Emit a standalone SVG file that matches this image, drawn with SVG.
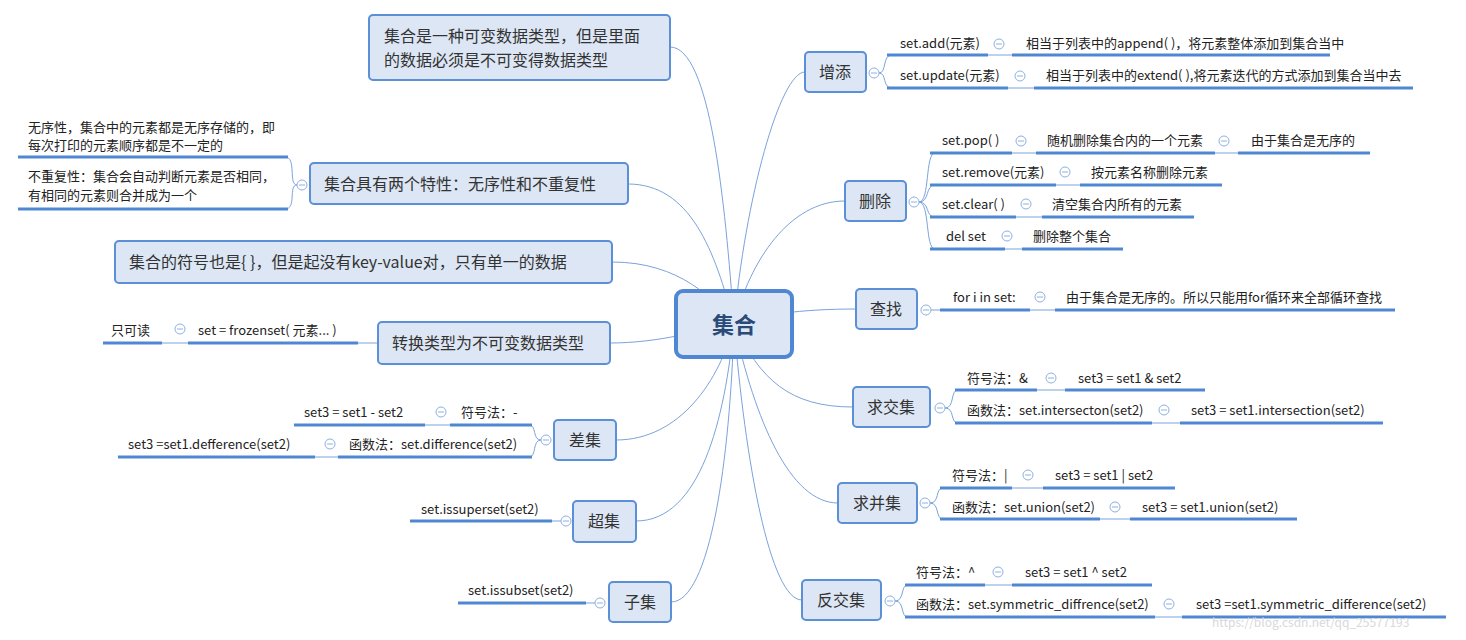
<svg xmlns="http://www.w3.org/2000/svg" width="1466" height="640" viewBox="0 0 1466 640">
<defs>
<style>
text{font-family:"Noto Sans CJK SC","Microsoft YaHei",sans-serif;fill:#222}
.lf{font-size:13px}
.nd{font-size:16px;fill:#333}
.bx{fill:#dce6f4;stroke:#5b8fd6;stroke-width:2}
.ul{stroke:#4f87d2;stroke-width:3;fill:none}
.cn{stroke:#7aa3dc;stroke-width:1;fill:none}
.cc{fill:#fff;stroke:#8eb0e0;stroke-width:1}
.cm{stroke:#8eb0e0;stroke-width:1}
</style>
<g id="col"><circle class="cc" r="5"/><line class="cm" x1="-3" y1="0" x2="3" y2="0"/></g>
</defs>
<rect width="1466" height="640" fill="#fff"/>
<g id="connectors">
<path class="cn" d="M734 324 C745 200 780 72 805 72"/>
<path class="cn" d="M734 324 C750 260 790 201 845 201"/>
<path class="cn" d="M734 324 C760 315 800 309 856 309"/>
<path class="cn" d="M734 324 C760 380 790 407 853 407"/>
<path class="cn" d="M734 324 C755 420 790 503 838 503"/>
<path class="cn" d="M734 324 C745 460 770 600 802 600"/>
<path class="cn" d="M734 324 C725 200 710 47 670 47"/>
<path class="cn" d="M734 324 C715 250 690 184 628 184"/>
<path class="cn" d="M734 324 C715 300 680 262 612 262"/>
<path class="cn" d="M734 324 C700 330 660 343 610 343"/>
<path class="cn" d="M734 324 C720 380 680 440 616 440"/>
<path class="cn" d="M734 324 C725 420 700 521 636 521"/>
<path class="cn" d="M734 324 C730 460 710 602 671 602"/>
<!-- 增添 -->
<path class="cn" d="M879 73 C887 73 882 55 892 55 M879 73 C887 73 882 88 892 88"/>
<path class="cn" d="M988 55 H1012 M1008 88 H1034"/>
<!-- 删除 -->
<path class="cn" d="M919 202 C930 202 925 153 935 153 M919 202 C930 202 925 185 935 185 M919 202 C930 202 925 217 935 217 M919 202 C930 202 925 249 935 249"/>
<path class="cn" d="M1012 153 H1036 M1215 153 H1238 M1056 185 H1080 M1016 217 H1042 M1005 249 H1022"/>
<!-- 查找 -->
<path class="cn" d="M931 310 H940 M1030 310 H1055"/>
<!-- 交集 -->
<path class="cn" d="M945 408 C955 408 950 390 958 390 M945 408 C955 408 950 423 958 423 M1037 390 H1065 M1152 423 H1180"/>
<!-- 并集 -->
<path class="cn" d="M930 503 C940 503 935 488 943 488 M930 503 C940 503 935 519 943 519 M1012 488 H1043 M1100 519 H1130"/>
<!-- 反交集 -->
<path class="cn" d="M895 601 C905 601 900 585 908 585 M895 601 C905 601 900 617 908 617 M985 585 H1012 M1155 617 H1182"/>
<!-- 特性 -->
<path class="cn" d="M297 185 C288 185 297 157 285 157 M297 185 C288 185 297 209 285 209"/>
<!-- 转换 -->
<path class="cn" d="M378 343 H358 M188 343 H162"/>
<!-- 差集 -->
<path class="cn" d="M541 440 C532 440 537 425 529 425 M541 440 C532 440 537 457 529 457 M450 425 H425 M338 457 H315"/>
<path class="cn" d="M561 521 H552 M595 603 H586"/>
</g>
<g id="center"><rect x="676" y="291" width="116" height="66" rx="7" fill="#dce6f4" stroke="#4f87d2" stroke-width="4"/><text x="734" y="333" text-anchor="middle" style="font-size:22px;font-weight:bold;fill:#2a4a78">集合</text></g>

<g id="n-add"><rect class="bx" x="805" y="52" width="61" height="40" rx="4"/><text class="nd" x="835" y="78" text-anchor="middle">增添</text><use href="#col" x="874" y="73"/>
<text class="lf" x="900" y="48">set.add(元素)</text><line class="ul" x1="887" y1="55" x2="988" y2="55"/><use href="#col" x="999" y="44"/>
<text class="lf" x="1026" y="48">相当于列表中的append( )，将元素整体添加到集合当中</text><line class="ul" x1="1012" y1="55" x2="1330" y2="55"/>
<text class="lf" x="900" y="80">set.update(元素)</text><line class="ul" x1="887" y1="88" x2="1008" y2="88"/><use href="#col" x="1020" y="76"/>
<text class="lf" x="1046" y="80">相当于列表中的extend( ),将元素迭代的方式添加到集合当中去</text><line class="ul" x1="1034" y1="88" x2="1413" y2="88"/></g>

<g id="n-del"><rect class="bx" x="845" y="181" width="61" height="40" rx="4"/><text class="nd" x="875" y="207" text-anchor="middle">删除</text><use href="#col" x="914" y="202"/>
<text class="lf" x="942" y="145">set.pop( )</text><line class="ul" x1="930" y1="153" x2="1012" y2="153"/><use href="#col" x="1021" y="141"/>
<text class="lf" x="1047" y="145">随机删除集合内的一个元素</text><line class="ul" x1="1036" y1="153" x2="1215" y2="153"/><use href="#col" x="1224" y="141"/>
<text class="lf" x="1251" y="145">由于集合是无序的</text><line class="ul" x1="1238" y1="153" x2="1370" y2="153"/>
<text class="lf" x="942" y="177">set.remove(元素)</text><line class="ul" x1="930" y1="185" x2="1056" y2="185"/><use href="#col" x="1065" y="172"/>
<text class="lf" x="1091" y="177">按元素名称删除元素</text><line class="ul" x1="1080" y1="185" x2="1222" y2="185"/>
<text class="lf" x="942" y="209">set.clear( )</text><line class="ul" x1="930" y1="217" x2="1016" y2="217"/><use href="#col" x="1026" y="204"/>
<text class="lf" x="1052" y="209">清空集合内所有的元素</text><line class="ul" x1="1042" y1="217" x2="1194" y2="217"/>
<text class="lf" x="946" y="241">del set</text><line class="ul" x1="930" y1="249" x2="1005" y2="249"/><use href="#col" x="1007" y="236"/>
<text class="lf" x="1033" y="241">删除整个集合</text><line class="ul" x1="1022" y1="249" x2="1123" y2="249"/></g>

<g id="n-find"><rect class="bx" x="856" y="289" width="61" height="40" rx="4"/><text class="nd" x="886" y="315" text-anchor="middle">查找</text><use href="#col" x="926" y="310"/>
<text class="lf" x="953" y="302">for i in set:</text><line class="ul" x1="940" y1="310" x2="1030" y2="310"/><use href="#col" x="1040" y="297"/>
<text class="lf" x="1066" y="302">由于集合是无序的。所以只能用for循环来全部循环查找</text><line class="ul" x1="1055" y1="310" x2="1395" y2="310"/></g>

<g id="n-inter"><rect class="bx" x="853" y="387" width="77" height="40" rx="4"/><text class="nd" x="891" y="413" text-anchor="middle">求交集</text><use href="#col" x="940" y="408"/>
<text class="lf" x="967" y="383">符号法：&amp;</text><line class="ul" x1="955" y1="390" x2="1037" y2="390"/><use href="#col" x="1051" y="378"/>
<text class="lf" x="1078" y="383">set3 = set1 &amp; set2</text><line class="ul" x1="1065" y1="390" x2="1205" y2="390"/>
<text class="lf" x="967" y="415">函数法：set.intersecton(set2)</text><line class="ul" x1="955" y1="423" x2="1152" y2="423"/><use href="#col" x="1164" y="410"/>
<text class="lf" x="1191" y="415">set3 = set1.intersection(set2)</text><line class="ul" x1="1180" y1="423" x2="1383" y2="423"/></g>

<g id="n-union"><rect class="bx" x="838" y="483" width="79" height="40" rx="4"/><text class="nd" x="877" y="509" text-anchor="middle">求并集</text><use href="#col" x="925" y="503"/>
<text class="lf" x="952" y="480">符号法：|</text><line class="ul" x1="940" y1="488" x2="1012" y2="488"/><use href="#col" x="1028" y="475"/>
<text class="lf" x="1055" y="480">set3 = set1 | set2</text><line class="ul" x1="1043" y1="488" x2="1175" y2="488"/>
<text class="lf" x="952" y="512">函数法：set.union(set2)</text><line class="ul" x1="940" y1="519" x2="1100" y2="519"/><use href="#col" x="1115" y="507"/>
<text class="lf" x="1142" y="512">set3 = set1.union(set2)</text><line class="ul" x1="1130" y1="519" x2="1297" y2="519"/></g>

<g id="n-sym"><rect class="bx" x="802" y="580" width="79" height="40" rx="4"/><text class="nd" x="841" y="606" text-anchor="middle">反交集</text><use href="#col" x="890" y="601"/>
<text class="lf" x="916" y="577">符号法：^</text><line class="ul" x1="905" y1="585" x2="985" y2="585"/><use href="#col" x="998" y="572"/>
<text class="lf" x="1025" y="577">set3 = set1 ^ set2</text><line class="ul" x1="1012" y1="585" x2="1152" y2="585"/>
<text class="lf" x="916" y="609">函数法：set.symmetric_diffrence(set2)</text><line class="ul" x1="905" y1="617" x2="1155" y2="617"/><use href="#col" x="1169" y="604"/>
<text class="lf" x="1196" y="609">set3  =set1.symmetric_difference(set2)</text><line class="ul" x1="1182" y1="617" x2="1446" y2="617"/></g>

<g id="n-desc"><rect class="bx" x="369" y="15" width="301" height="65" rx="4"/><text class="nd" x="384" y="42">集合是一种可变数据类型，但是里面</text><text class="nd" x="384" y="66">的数据必须是不可变得数据类型</text></g>

<g id="n-feat"><rect class="bx" x="310" y="163" width="318" height="41" rx="4"/><text class="nd" x="324" y="190">集合具有两个特性：无序性和不重复性</text><use href="#col" x="302" y="185"/>
<text class="lf" x="28" y="132">无序性，集合中的元素都是无序存储的，即</text><text class="lf" x="28" y="150">每次打印的元素顺序都是不一定的</text><line class="ul" x1="18" y1="157" x2="288" y2="157"/>
<text class="lf" x="28" y="181">不重复性：集合会自动判断元素是否相同，</text><text class="lf" x="28" y="200">有相同的元素则合并成为一个</text><line class="ul" x1="18" y1="209" x2="288" y2="209"/></g>

<g id="n-sym2"><rect class="bx" x="115" y="241" width="497" height="42" rx="4"/><text class="nd" x="129" y="268">集合的符号也是{ }，但是起没有key-value对，只有单一的数据</text></g>

<g id="n-frozen"><rect class="bx" x="378" y="322" width="232" height="42" rx="4"/><text class="nd" x="392" y="349">转换类型为不可变数据类型</text>
<text class="lf" x="198" y="335">set = frozenset( 元素... )</text><line class="ul" x1="188" y1="343" x2="358" y2="343"/><use href="#col" x="180" y="329"/>
<text class="lf" x="111" y="335">只可读</text><line class="ul" x1="103" y1="343" x2="162" y2="343"/></g>

<g id="n-diff"><rect class="bx" x="554" y="420" width="62" height="40" rx="4"/><text class="nd" x="585" y="446" text-anchor="middle">差集</text><use href="#col" x="546" y="440"/>
<text class="lf" x="461" y="417">符号法：-</text><line class="ul" x1="450" y1="425" x2="532" y2="425"/><use href="#col" x="441" y="412"/>
<text class="lf" x="304" y="417">set3 = set1 - set2</text><line class="ul" x1="294" y1="425" x2="425" y2="425"/>
<text class="lf" x="349" y="449">函数法：set.difference(set2)</text><line class="ul" x1="338" y1="457" x2="532" y2="457"/><use href="#col" x="330" y="444"/>
<text class="lf" x="128" y="449">set3  =set1.defference(set2)</text><line class="ul" x1="118" y1="457" x2="315" y2="457"/></g>

<g id="n-super"><rect class="bx" x="573" y="501" width="63" height="41" rx="4"/><text class="nd" x="604" y="527" text-anchor="middle">超集</text><use href="#col" x="566" y="521"/>
<text class="lf" x="421" y="514">set.issuperset(set2)</text><line class="ul" x1="410" y1="521" x2="552" y2="521"/></g>

<g id="n-sub"><rect class="bx" x="609" y="582" width="62" height="40" rx="4"/><text class="nd" x="640" y="608" text-anchor="middle">子集</text><use href="#col" x="600" y="603"/>
<text class="lf" x="468" y="595">set.issubset(set2)</text><line class="ul" x1="458" y1="603" x2="586" y2="603"/></g>
<text x="1212" y="627" style="font-size:12px;fill:#d8d8d8">https://blog.csdn.net/qq_25577193</text>
</svg>
